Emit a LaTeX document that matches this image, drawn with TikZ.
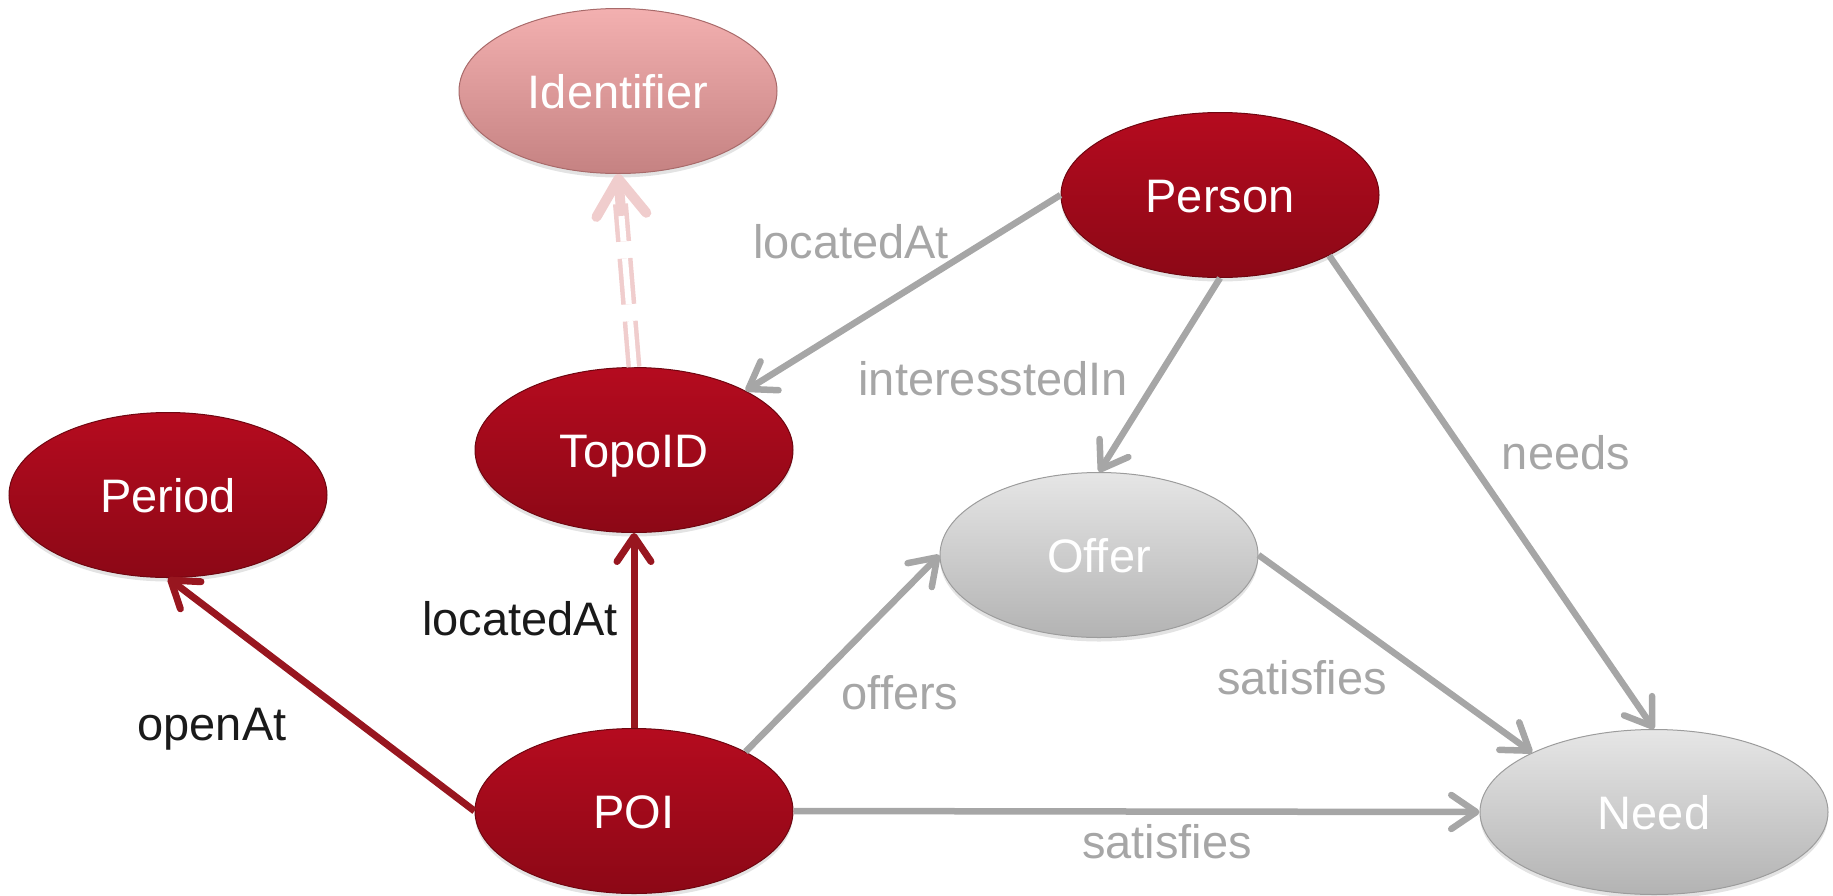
\documentclass[tikz,border=0pt]{standalone}
\usepackage{fontspec}
\setmainfont{Liberation Sans}
\usetikzlibrary{arrows.meta,shapes.geometric,calc,shadows}
\definecolor{redtop}{HTML}{B50B1F}
\definecolor{redbot}{HTML}{8C0816}
\definecolor{redborder}{HTML}{6E0610}
\definecolor{redline}{HTML}{98161F}
\definecolor{greyline}{HTML}{A6A6A6}
\definecolor{greytop}{HTML}{E6E6E6}
\definecolor{greybot}{HTML}{B3B3B3}
\definecolor{greyborder}{HTML}{9C9C9C}
\definecolor{pinktop}{HTML}{F3B0B0}
\definecolor{pinkbot}{HTML}{C58282}
\definecolor{pinkborder}{HTML}{A86A6A}
\definecolor{pinkline}{HTML}{F0CDCD}
\definecolor{labelgrey}{HTML}{A6A6A6}
\definecolor{labelblack}{HTML}{1A1A1A}
\begin{document}
\begin{tikzpicture}[x=1pt,y=-1pt,
  basenode/.style={ellipse, inner sep=0pt, minimum width=318pt, minimum height=165pt,
    text=white, font=\fontsize{47}{56}\selectfont, text height=34pt, text depth=0pt,
    line width=1pt,
    drop shadow={shadow xshift=0pt, shadow yshift=-4pt, opacity=0.22}},
  rednode/.style={basenode, top color=redtop, bottom color=redbot, draw=redborder},
  greynode/.style={basenode, top color=greytop, bottom color=greybot, draw=greyborder},
  pinknode/.style={basenode, top color=pinktop, bottom color=pinkbot, draw=pinkborder},
  redarrow/.style={draw=redline, line width=7pt, -{Straight Barb[length=25pt,width=34pt,round]}},
  greyarrow/.style={draw=greyline, line width=6.5pt, -{Straight Barb[length=25pt,width=34pt,round]}},
  idline/.style={draw=pinkline, line width=4.5pt, double=white, double distance=6pt, dash pattern=on 46pt off 17pt},
  idarrow/.style={draw=pinkline, line width=10pt, -{Straight Barb[length=36pt,width=50pt,round]}},
  glabel/.style={anchor=base, inner sep=0pt, text=labelgrey, font=\fontsize{47}{56}\selectfont},
  blabel/.style={anchor=base, inner sep=0pt, text=labelblack, font=\fontsize{47}{56}\selectfont}
]
\useasboundingbox (0,0) rectangle (1833,895);

\node[pinknode] (ident) at (618,91) {Identifier};
\node[rednode] (person) at (1220,195) {Person};
\node[rednode] (topo) at (634,450) {TopoID};
\node[rednode] (period) at (168,495) {Period};
\node[greynode] (offer) at (1099,555) {Offer};
\node[rednode] (poi) at (634,811) {POI};
\node[greynode, minimum width=348pt] (need) at (1654,812) {Need};

\draw[redarrow] (poi.west) -- (period.south);
\draw[redarrow] (poi.north) -- (topo.south);
\draw[greyarrow] (poi.28) -- (offer.west);
\draw[greyarrow] (poi.east) -- (need.west);
\draw[greyarrow] (offer.east) -- (need.154);
\draw[greyarrow] (person.-29) -- (need.north);
\draw[greyarrow] (person.south) -- (offer.north);
\draw[greyarrow] (person.west) -- (topo.28);

\draw[idline] (topo.north) -- ($(ident.south)!30pt!(topo.north)$);
\draw[idarrow] ($(ident.south)!42pt!(topo.north)$) -- (ident.south);

\node[glabel] (lLocP) at (851,258) {locatedAt};
\node[glabel] (lInt) at (993,395) {interesstedIn};
\node[glabel] (lNeeds) at (1566,469) {needs};
\node[glabel] (lSat1) at (1302,694) {satisfies};
\node[glabel] (lSat2) at (1167,858) {satisfies};
\node[glabel] (lOff) at (900,709) {offers};
\node[blabel] (lLocT) at (520,635) {locatedAt};
\node[blabel] (lOpen) at (212,740) {openAt};
\end{tikzpicture}
\end{document}
